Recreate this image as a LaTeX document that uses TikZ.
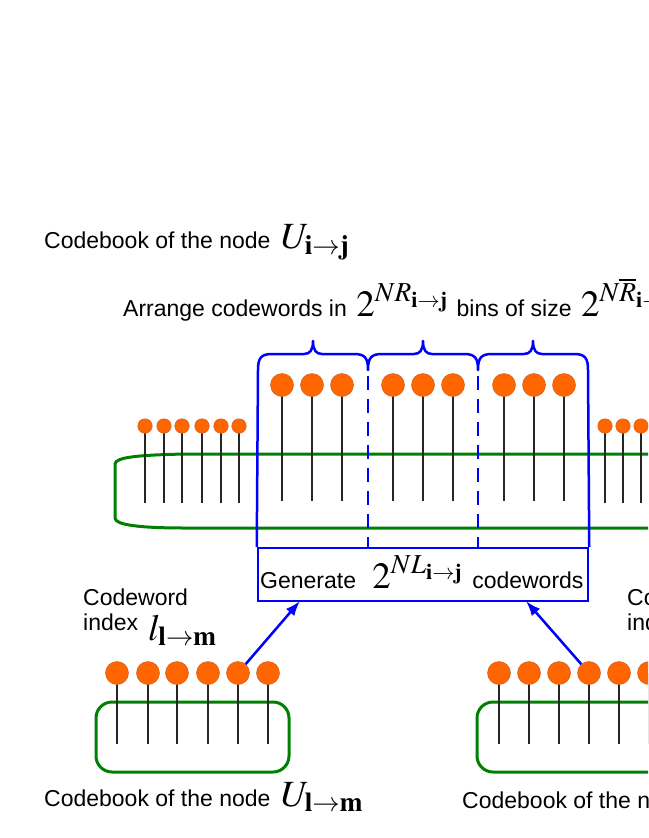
\documentclass[tikz,border=0pt]{standalone}
\usepackage{mathptmx}
\usepackage[no-math]{fontspec}
\newfontfamily\arial{Liberation Sans}
\usetikzlibrary{arrows.meta}
\definecolor{ballorange}{RGB}{255,102,0}
\definecolor{ballline}{RGB}{205,95,40}
\definecolor{cbgreen}{RGB}{0,128,0}
\newcommand\mth[1]{{\fontsize{37}{42}\selectfont$#1$}}
\begin{document}
\begin{tikzpicture}[x=1pt,y=-1pt,
  bigball/.style={circle,fill=ballorange,draw=ballline,line width=0.5pt,minimum size=23pt,inner sep=0pt},
  smallball/.style={circle,fill=ballorange,draw=ballline,line width=0.5pt,minimum size=14.5pt,inner sep=0pt},
  stem/.style={draw=black!85,line width=1.1pt},
  cbline/.style={draw=cbgreen,line width=3pt},
  blueline/.style={draw=blue,line width=2.5pt,line join=round},
  bluedash/.style={draw=blue,line width=2.5pt,dash pattern=on 14pt off 9pt},
  bluearrow/.style={draw=blue,line width=2.5pt,-{Latex[length=15pt,width=11pt]}},
  txt/.style={font=\fontsize{23}{27}\arial,anchor=base west,inner sep=0pt}]
\useasboundingbox (0,0) rectangle (648,838);
\clip (0,0) rectangle (648,838);

% titles
\node[txt] (title) at (44,248) {Codebook of the node\hspace{4pt} \mth{U_{\mathbf{i}\to\mathbf{j}}}};
\node[txt] (arrange) at (123,316) {Arrange codewords in\hspace{3pt} \mth{2^{NR_{\mathbf{i}\to\mathbf{j}}}}\hspace{2pt} bins of size\hspace{3pt} \mth{2^{N\overline{R}_{\mathbf{i}\to\mathbf{j}}}}};

% big green codebook
\draw[cbline] (185,454) -- (661,454) .. controls (706,455) and (731,457) .. (731,464) -- (731,518)
  .. controls (731,525) and (706,528) .. (661,528) -- (185,528)
  .. controls (140,528) and (115,525) .. (115,518) -- (115,464)
  .. controls (115,457) and (140,455) .. (185,454) -- cycle;

% small balls
\foreach \x [count=\i] in {145,164,182,202,221,239,605,623,641,661,680,698}{
  \coordinate (sb\i) at (\x,426);
  \draw[stem] (sb\i) -- ++(0,77);
  \node[smallball] (SB\i) at (sb\i) {};
}
% big balls in bins
\foreach \x [count=\i] in {282,312,342,393,423,453,504,534,564}{
  \coordinate (bb\i) at (\x,385);
  \draw[stem] (bb\i) -- ++(0,116);
  \node[bigball] (BB\i) at (bb\i) {};
}

% generate box
\node[draw=blue,line width=2.5pt,minimum width=330pt,minimum height=53pt,inner sep=0pt] (gen) at (423,574.5) {};
\node[txt] (gentext) at (260,588) {Generate\hspace{10pt} \mth{2^{NL_{\mathbf{i}\to\mathbf{j}}}}\hspace{3pt} codewords};

% braces and bin separators
\draw[blueline] (gen.north west) -- (258,370)
  .. controls (258,358) and (261,354) .. (272,354) -- (304,354)
  .. controls (310,354) and (313,350) .. (313,341)
  .. controls (313,350) and (316,354) .. (322,354) -- (354,354)
  .. controls (365,354) and (368,358) .. (368,370)
  .. controls (368,358) and (371,354) .. (382,354) -- (414,354)
  .. controls (420,354) and (423,350) .. (423,341)
  .. controls (423,350) and (426,354) .. (432,354) -- (464,354)
  .. controls (475,354) and (478,358) .. (478,370)
  .. controls (478,358) and (481,354) .. (492,354) -- (524,354)
  .. controls (530,354) and (533,350) .. (533,341)
  .. controls (533,350) and (536,354) .. (542,354) -- (574,354)
  .. controls (585,354) and (588,358) .. (588,370) -- (gen.north east);
\coordinate (d1) at (368,376);
\coordinate (d2) at (478,376);
\draw[bluedash] (d1) -- (d1 |- gen.north);
\draw[bluedash] (d2) -- (d2 |- gen.north);

% bottom-left codebook
\draw[cbline,rounded corners=16pt] (96,702) rectangle (289,772);
\foreach \x [count=\i] in {117,148,177,208,238,268}{
  \coordinate (lb\i) at (\x,673);
  \draw[stem] (lb\i) -- ++(0,71);
  \node[bigball] (LB\i) at (lb\i) {};
}
% bottom-right codebook
\draw[cbline,rounded corners=16pt] (477,702) rectangle (670,772);
\foreach \x [count=\i] in {499,529,559,589,619,649}{
  \coordinate (rb\i) at (\x,673);
  \draw[stem] (rb\i) -- ++(0,71);
  \node[bigball] (RB\i) at (rb\i) {};
}

% labels
\node[txt] (cwl1) at (83,605) {Codeword};
\node[txt] (cwl2) at (83,630) {index};
\node[txt] (cwl3) at (148,640) {\mth{l_{\mathbf{l}\to\mathbf{m}}}};
\node[txt] (cwr1) at (627,605) {Codeword};
\node[txt] (cwr2) at (627,630) {index};
\node[txt] (botl) at (44,806) {Codebook of the node\hspace{4pt} \mth{U_{\mathbf{l}\to\mathbf{m}}}};
\node[txt] (botr) at (462,808) {Codebook of the node\hspace{4pt} \mth{U_{\mathbf{m}\to\mathbf{l}}}};

% arrows
\coordinate (ga) at (300,601);
\coordinate (gb) at (526,601);
\draw[bluearrow] (LB5) -- (ga);
\draw[bluearrow] (RB4) -- (gb);
\end{tikzpicture}
\end{document}
